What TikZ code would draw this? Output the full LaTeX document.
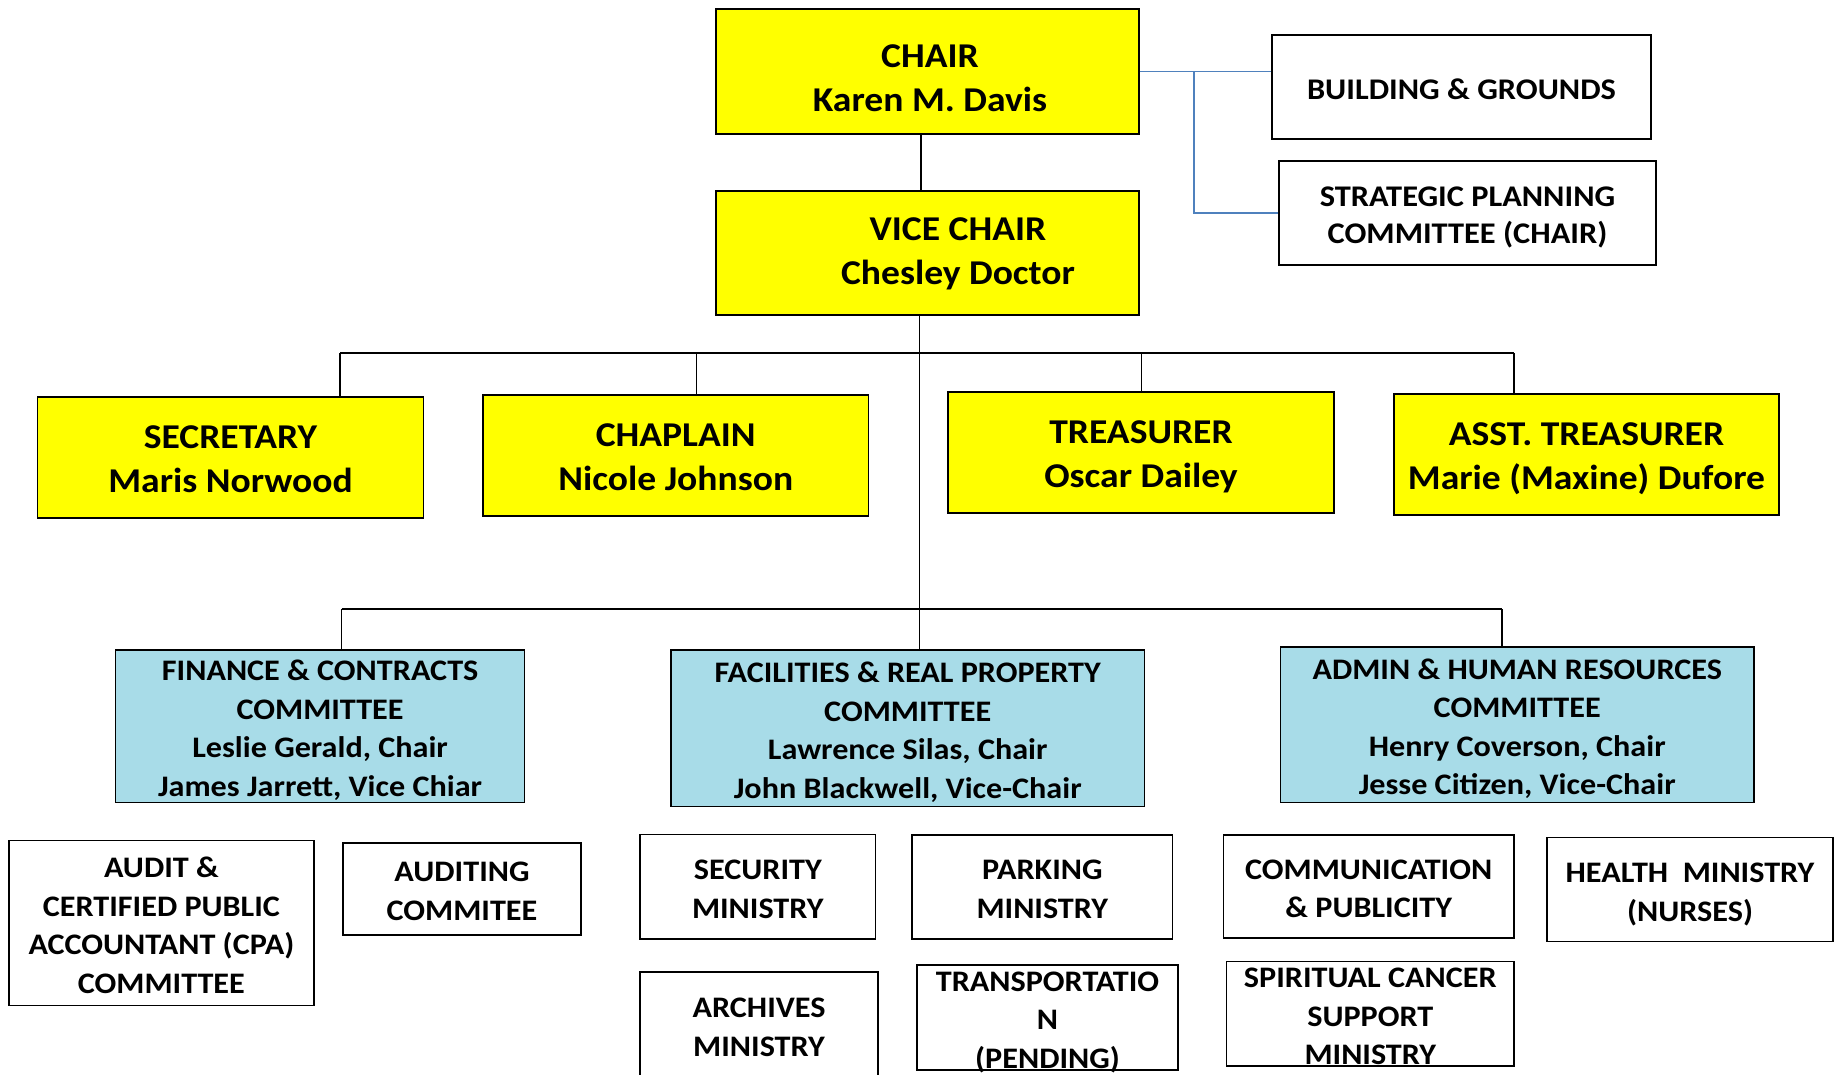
\documentclass[tikz,border=0pt]{standalone}
\usepackage{fontspec}
\setmainfont{Carlito}[FakeStretch=1.08]
\definecolor{yel}{RGB}{255,255,0}
\definecolor{lblue}{RGB}{168,220,232}
\definecolor{bluel}{RGB}{79,129,189}
\newcommand{\tb}[1]{\begin{tabular}{@{}c@{}}\rule{0pt}{0.88\baselineskip}#1\end{tabular}}
% #1 box style, #2 text style, #3 name, #4 x, #5 y, #6 width, #7 height, #8 text
\newcommand{\bx}[8]{%
  \node[#1, minimum width=#6pt, minimum height=#7pt] (#3) at (#4,#5) {};
  \node[#2] (#3-t) at ([yshift=-4.5pt]#3.center) {\tb{#8}};}
\begin{document}
\begin{tikzpicture}[x=1pt,y=-1pt,
  box/.style={draw=black, line width=1.5pt, inner sep=0pt},
  ybox/.style={box, fill=yel},
  cbox/.style={box, fill=lblue},
  wbox/.style={box, fill=white},
  ytxt/.style={inner sep=0pt, font=\bfseries\fontsize{34.8}{44}\selectfont},
  wtxt/.style={inner sep=0pt, font=\bfseries\fontsize{29.8}{38.5}\selectfont},
  htxt/.style={inner sep=0pt, font=\bfseries\fontsize{30}{37.6}\selectfont},
  conn/.style={draw=black, line width=1.5pt},
  bconn/.style={draw=bluel, line width=1.8pt}]
\useasboundingbox (0,0) rectangle (1839,1074);
\clip (0,0) rectangle (1839,1074);
\fill[white] (0,0) rectangle (1839,1074);

% top
\node[ybox, minimum width=423pt, minimum height=125pt] (chair) at (927.5,71.5) {};
\node[ytxt] (chair-t) at (930,80.8) {\tb{CHAIR\\Karen M. Davis}};
\node[ybox, minimum width=423pt, minimum height=124pt] (vice) at (927.5,253) {};
\node[ytxt] (vice-t) at (958,253.8) {\tb{VICE CHAIR\\Chesley Doctor}};

\bx{wbox}{htxt}{build}{1461.5}{87}{379}{104}{BUILDING \& GROUNDS}
\bx{wbox}{htxt}{strat}{1467.5}{213}{377}{104}{STRATEGIC PLANNING\\COMMITTEE (CHAIR)}

% officers
\bx{ybox}{ytxt}{sec}{230.5}{457.5}{386}{121}{SECRETARY\\Maris Norwood}
\bx{ybox}{ytxt}{chap}{675.75}{455.5}{385.5}{121}{CHAPLAIN\\Nicole Johnson}
\bx{ybox}{ytxt}{treas}{1141}{452.5}{386}{121}{TREASURER\\Oscar Dailey}
\bx{ybox}{ytxt}{asst}{1586.5}{454.5}{385}{121}{ASST. TREASURER\\Marie (Maxine) Dufore}

% committees
\bx{cbox}{wtxt}{fin}{320.1}{726.35}{409}{152.7}{FINANCE \& CONTRACTS\\COMMITTEE\\Leslie Gerald, Chair\\James Jarrett, Vice Chiar}
\bx{cbox}{wtxt}{fac}{907.75}{728.35}{473.5}{156.7}{FACILITIES \& REAL PROPERTY\\COMMITTEE\\Lawrence Silas, Chair\\John Blackwell, Vice-Chair}
\bx{cbox}{wtxt}{adm}{1517.25}{724.85}{473.5}{155.7}{ADMIN \& HUMAN RESOURCES\\COMMITTEE\\Henry Coverson, Chair\\Jesse Citizen, Vice-Chair}

% ministries
\bx{wbox}{wtxt}{audit}{161.4}{923.2}{305.2}{165}{AUDIT \&\\CERTIFIED PUBLIC\\ACCOUNTANT (CPA)\\COMMITTEE}
\bx{wbox}{wtxt}{auditing}{462}{889}{238}{92}{AUDITING\\COMMITEE}
\bx{wbox}{wtxt}{secur}{757.8}{886.85}{235.6}{104.3}{SECURITY\\MINISTRY}
\bx{wbox}{wtxt}{archiv}{759}{1025}{238}{106}{ARCHIVES\\MINISTRY}
\bx{wbox}{wtxt}{park}{1042.3}{887}{260.6}{104}{PARKING\\MINISTRY}
\bx{wbox}{wtxt}{trans}{1047.5}{1017.5}{261}{105}{TRANSPORTATIO\\N\\(PENDING)}
\bx{wbox}{wtxt}{comm}{1368.7}{886.5}{290.2}{103}{COMMUNICATION\\\& PUBLICITY}
\bx{wbox}{wtxt}{spirit}{1370.3}{1013.85}{287.4}{104.3}{SPIRITUAL CANCER\\SUPPORT\\MINISTRY}
\bx{wbox}{wtxt}{health}{1690}{889.7}{286}{104}{HEALTH\ \ MINISTRY\\(NURSES)}

% connectors
\coordinate (d1) at (340,353);
\coordinate (d2) at (696.6,353);
\coordinate (d3) at (1141.6,353);
\coordinate (d4) at (1514,353);
\coordinate (e1) at (341.5,609);
\coordinate (e3) at (1502,609);
\coordinate (sp) at (919.5,609);
\coordinate (bj) at (1194,71.5);

\draw[conn] ([xshift=-6.5pt]chair.south) -- ([xshift=-6.5pt]vice.north);
\draw[conn] ([xshift=-8pt]vice.south) -- (fac.north -| sp);
\draw[conn] (d1) -- (d4);
\draw[conn] (d1) -- (sec.north -| d1);
\draw[conn] (d2) -- (chap.north -| d2);
\draw[conn] (d3) -- (treas.north -| d3);
\draw[conn] (d4) -- (asst.north -| d4);
\draw[conn] (e1) -- (e3);
\draw[conn] (e1) -- (fin.north -| e1);
\draw[conn] (e3) -- (adm.north -| e3);

\draw[bconn] (chair.east) -- (chair.east -| build.west);
\draw[bconn] (bj) |- (strat.west);
\end{tikzpicture}
\end{document}
